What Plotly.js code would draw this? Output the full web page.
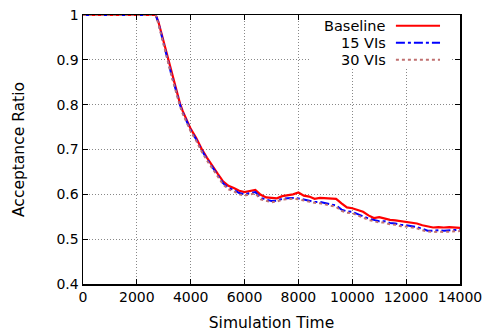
<!DOCTYPE html>
<html>
<head>
<meta charset="utf-8">
<script src="https://cdn.plot.ly/plotly-3.0.1.min.js"></script>
<style>html,body{margin:0;padding:0;background:#fff;}#chart{width:485px;height:335px;}</style>
</head>
<body>
<div id="chart"></div>
<script>
const simTime = [0, 2500, 2700, 2800, 2900, 3000, 3100, 3200, 3300, 3400, 3500, 3600, 3700, 3800, 3900, 4000,
  4200, 4400, 4600, 4800, 5000, 5200, 5400, 5600, 5800, 6000, 6200, 6400, 6600, 6800, 7000, 7200, 7400, 7600,
  7800, 8000, 8200, 8400, 8600, 8800, 9000, 9200, 9400, 9600, 9800, 10000, 10200, 10400, 10600, 10800, 11000,
  11200, 11400, 11600, 11800, 12000, 12200, 12400, 12600, 12800, 13000, 13200, 13400, 13600, 13800, 14000];

const baseline = [1, 1, 1, 0.985, 0.962, 0.94, 0.915, 0.892, 0.866, 0.846, 0.822, 0.803, 0.786, 0.772, 0.76, 0.746,
  0.726, 0.702, 0.682, 0.663, 0.646, 0.629, 0.619, 0.614, 0.608, 0.605, 0.608, 0.61, 0.599, 0.593, 0.592, 0.591,
  0.596, 0.598, 0.6, 0.604, 0.597, 0.595, 0.59, 0.592, 0.591, 0.591, 0.59, 0.58, 0.571, 0.569, 0.565, 0.561,
  0.553, 0.547, 0.549, 0.546, 0.543, 0.542, 0.54, 0.539, 0.537, 0.535, 0.531, 0.528, 0.526, 0.527, 0.526,
  0.527, 0.526, 0.525];

const vis15 = [1, 1, 1, 0.983, 0.958, 0.937, 0.912, 0.888, 0.863, 0.843, 0.82, 0.8, 0.783, 0.769, 0.757, 0.743,
  0.723, 0.699, 0.679, 0.66, 0.642, 0.625, 0.614, 0.61, 0.603, 0.6, 0.603, 0.605, 0.592, 0.588, 0.585, 0.586,
  0.59, 0.591, 0.592, 0.591, 0.588, 0.586, 0.583, 0.583, 0.58, 0.578, 0.575, 0.566, 0.562, 0.561, 0.556, 0.551,
  0.546, 0.543, 0.54, 0.54, 0.536, 0.535, 0.532, 0.531, 0.529, 0.527, 0.523, 0.519, 0.519, 0.52, 0.519,
  0.52, 0.52, 0.521];

const vis30 = [1, 1, 1, 0.98, 0.955, 0.934, 0.909, 0.886, 0.861, 0.84, 0.817, 0.797, 0.78, 0.766, 0.754, 0.74,
  0.72, 0.696, 0.676, 0.657, 0.639, 0.622, 0.611, 0.607, 0.6, 0.597, 0.6, 0.602, 0.589, 0.585, 0.582, 0.584,
  0.588, 0.589, 0.59, 0.589, 0.586, 0.584, 0.581, 0.58, 0.577, 0.575, 0.572, 0.563, 0.559, 0.558, 0.553, 0.548,
  0.543, 0.54, 0.537, 0.537, 0.533, 0.532, 0.529, 0.528, 0.526, 0.524, 0.52, 0.517, 0.516, 0.517, 0.516,
  0.517, 0.517, 0.518];

const seriesNames = ['Baseline', '15 VIs', '30 VIs'];
const xTicks = [0, 2000, 4000, 6000, 8000, 10000, 12000, 14000];
const yTicks = [0.4, 0.5, 0.6, 0.7, 0.8, 0.9, 1];
const yTickText = ['0.4', '0.5', '0.6', '0.7', '0.8', '0.9', '1'];

const colors = ['#ff0000', '#0000ff', '#c07070'];
const dashes = ['solid', 'dashdot', 'dot'];
const widths = [2.2, 2, 2];
const ys = [baseline, vis15, vis30];

const traces = ys.map((y, i) => ({
  x: simTime, y: y, type: 'scatter', mode: 'lines', name: seriesNames[i],
  line: {color: colors[i], dash: dashes[i], width: widths[i]}, showlegend: false
}));

const ff = 'DejaVu Sans, sans-serif';
const tickFont = {family: ff, size: 14, color: '#000'};
const titleFont = {family: ff, size: 15.5, color: '#000'};
const legFont = {family: ff, size: 14.5, color: '#000'};

const annotations = [
  {xref: 'paper', yref: 'paper', x: 0.81, y: 0.96, text: seriesNames[0], showarrow: false, xanchor: 'right', yanchor: 'middle', font: legFont},
  {xref: 'paper', yref: 'paper', x: 0.81, y: 0.897, text: seriesNames[1], showarrow: false, xanchor: 'right', yanchor: 'middle', font: legFont},
  {xref: 'paper', yref: 'paper', x: 0.81, y: 0.834, text: seriesNames[2], showarrow: false, xanchor: 'right', yanchor: 'middle', font: legFont}
];
const shapes = [
  {type: 'rect', xref: 'paper', yref: 'paper', x0: 0.6, x1: 0.975, y0: 0.8, y1: 1, fillcolor: '#fff', line: {width: 0}, layer: 'above'},
  {type: 'line', xref: 'paper', yref: 'paper', x0: 0.83, x1: 0.947, y0: 0.96, y1: 0.96, line: {color: colors[0], width: 2.2, dash: 'solid'}, layer: 'above'},
  {type: 'line', xref: 'paper', yref: 'paper', x0: 0.83, x1: 0.947, y0: 0.897, y1: 0.897, line: {color: colors[1], width: 2, dash: 'dashdot'}, layer: 'above'},
  {type: 'line', xref: 'paper', yref: 'paper', x0: 0.83, x1: 0.947, y0: 0.834, y1: 0.834, line: {color: colors[2], width: 2, dash: 'dot'}, layer: 'above'}
];

const layout = {
  width: 485, height: 335,
  margin: {l: 83, r: 25, t: 15, b: 51},
  paper_bgcolor: '#fff', plot_bgcolor: '#fff',
  font: tickFont,
  showlegend: false,
  xaxis: {
    range: [0, 14000], tickvals: xTicks, ticktext: xTicks.map(String),
    ticks: 'inside', ticklen: 5, tickcolor: '#000', mirror: 'ticks',
    showline: true, linecolor: '#000', linewidth: 1.5,
    showgrid: true, gridcolor: '#888', griddash: '1px,2px', gridwidth: 1,
    zeroline: false, tickfont: tickFont,
    title: {text: 'Simulation Time', font: titleFont, standoff: 13}
  },
  yaxis: {
    range: [0.4, 1], tickvals: yTicks, ticktext: yTickText,
    ticks: 'inside', ticklen: 5, tickcolor: '#000', mirror: 'ticks',
    showline: true, linecolor: '#000', linewidth: 1.5,
    showgrid: true, gridcolor: '#888', griddash: '1px,2px', gridwidth: 1,
    zeroline: false, tickfont: tickFont,
    title: {text: 'Acceptance Ratio', font: titleFont, standoff: 28}
  },
  annotations: annotations,
  shapes: shapes
};

Plotly.newPlot('chart', traces, layout, {staticPlot: true, displayModeBar: false});
</script>
</body>
</html>
